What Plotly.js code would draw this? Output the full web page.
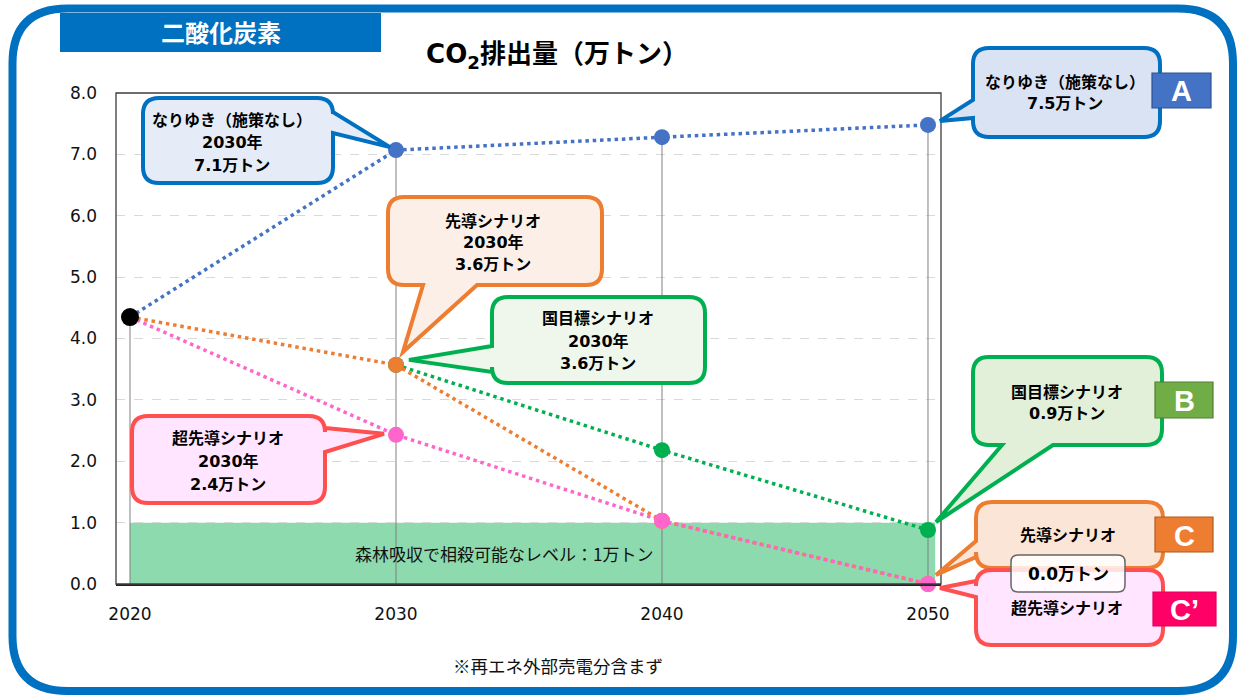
<!DOCTYPE html>
<html><head><meta charset="utf-8">
<script src="https://cdn.plot.ly/plotly-3.0.1.min.js"></script>
<style>html,body{margin:0;padding:0;background:#fff;}#chart{width:1239px;height:695px;}</style>
</head><body><div id="chart"></div>
<script>
// ---------------- data ----------------
const years = [2020, 2030, 2040, 2050];
const yearLabels = ['2020', '2030', '2040', '2050'];
const baseline = [4.35];                       // 2020 actual (black point)
const nariyuki = [4.35, 7.07, 7.28, 7.48];     // なりゆき（施策なし）
const kuniMokuhyo = [null, 3.57, 2.18, 0.88];  // 国目標シナリオ
const sendo = [4.35, 3.57, 1.03, 0.0];         // 先導シナリオ
const choSendo = [4.35, 2.43, 1.03, 0.0];      // 超先導シナリオ
const yTickVals = [0, 1, 2, 3, 4, 5, 6, 7, 8];
const yTickText = ['0.0', '1.0', '2.0', '3.0', '4.0', '5.0', '6.0', '7.0', '8.0'];
const forestLevel = 1.0;                       // 森林吸収で相殺可能なレベル

// ---------------- geometry ----------------
const W = 1239, H = 695;
const M = {l: 116, r: 298, t: 93, b: 111};
const PW = W - M.l - M.r, PH = H - M.t - M.b;
const XR = [2019.474, 2050.489], YR = [0, 8];
const px2x = px => (px - M.l) / PW;
const py2y = py => (M.t + PH - py) / PH;
const dX = v => M.l + (v - XR[0]) / (XR[1] - XR[0]) * PW;
const dY = v => M.t + PH - (v - YR[0]) / (YR[1] - YR[0]) * PH;
const P = (x, y) => px2x(x).toFixed(5) + ',' + py2y(y).toFixed(5);

function roundPath(x0, y0, x1, y1, r, tail) {
  const s = [];
  const t = tail || {};
  s.push('M' + P(x0 + r, y0));
  if (t.side === 'top') s.push('L' + P(t.a, y0), 'L' + P(t.tip[0], t.tip[1]), 'L' + P(t.b, y0));
  s.push('L' + P(x1 - r, y0), 'Q' + P(x1, y0) + ' ' + P(x1, y0 + r));
  if (t.side === 'right') s.push('L' + P(x1, t.a), 'L' + P(t.tip[0], t.tip[1]), 'L' + P(x1, t.b));
  s.push('L' + P(x1, y1 - r), 'Q' + P(x1, y1) + ' ' + P(x1 - r, y1));
  if (t.side === 'bottom') s.push('L' + P(t.b, y1), 'L' + P(t.tip[0], t.tip[1]), 'L' + P(t.a, y1));
  s.push('L' + P(x0 + r, y1), 'Q' + P(x0, y1) + ' ' + P(x0, y1 - r));
  if (t.side === 'left') s.push('L' + P(x0, t.b), 'L' + P(t.tip[0], t.tip[1]), 'L' + P(x0, t.a));
  s.push('L' + P(x0, y0 + r), 'Q' + P(x0, y0) + ' ' + P(x0 + r, y0), 'Z');
  return s.join(' ');
}
const tipAt = (yr, v, ox, oy) => [dX(yr) + ox, dY(v) + oy];

const C = {
  blue: '#4472C4', orange: '#ED7D31', green: '#00B050', pink: '#FF66CC',
  frame: '#0070C0'
};
const JP = '"Noto Sans CJK JP", "Noto Sans", sans-serif';
const MIX = '"DejaVu Sans", "Noto Sans CJK JP", sans-serif';
const NUM = '"DejaVu Sans", Verdana, sans-serif';

// ---------------- traces ----------------
const allSeries = [nariyuki, kuniMokuhyo, sendo, choSendo];
const dropX = [], dropY = [];
years.forEach((yr, i) => {
  const vals = allSeries.map(s => s[i]).filter(v => v != null);
  dropX.push(yr, yr, null); dropY.push(0, Math.max(...vals), null);
});
const dotDash = '3.5px,3.8px';
const lineTrace = (y, col) => ({x: years, y: y, mode: 'lines', connectgaps: false, cliponaxis: false,
  line: {color: col, width: 3.5, dash: dotDash}, hoverinfo: 'skip'});
const markTrace = (y, col) => ({x: years.slice(1), y: y.slice(1), mode: 'markers', cliponaxis: false,
  marker: {color: col, size: 16}, hoverinfo: 'skip'});
const traces = [
  {x: dropX, y: dropY, mode: 'lines', line: {color: '#808080', width: 1}, hoverinfo: 'skip'},
  lineTrace(nariyuki, C.blue), lineTrace(kuniMokuhyo, C.green),
  lineTrace(sendo, C.orange), lineTrace(choSendo, C.pink),
  markTrace(nariyuki, C.blue), markTrace(kuniMokuhyo, C.green),
  markTrace(sendo, C.orange), markTrace(choSendo, C.pink),
  {x: [years[0]], y: baseline, mode: 'markers', cliponaxis: false, marker: {color: '#000', size: 18}, hoverinfo: 'skip'}
];

// ---------------- shapes & annotations ----------------
const shapes = [];
const ann = [];
const txt = (x, y, text, size, color, bold, family) => ann.push({
  xref: 'paper', yref: 'paper', x: px2x(x), y: py2y(y), xanchor: 'center', yanchor: 'middle',
  showarrow: false, text: bold ? '<b>' + text + '</b>' : text,
  font: {family: family || JP, size: size, color: color || '#000'}
});

// outer rounded frame
shapes.push({type: 'path', xref: 'paper', yref: 'paper', layer: 'below',
  path: roundPath(12.5, 8.5, 1233, 691, 55), line: {color: C.frame, width: 8}, fillcolor: 'rgba(0,0,0,0)'});
// header box
shapes.push({type: 'rect', xref: 'paper', yref: 'paper', layer: 'below',
  x0: px2x(60), x1: px2x(381), y0: py2y(13), y1: py2y(52), fillcolor: C.frame, line: {width: 0}});
txt(221, 32, '二酸化炭素', 24, '#fff', true);
// forest absorption band
shapes.push({type: 'rect', xref: 'x', yref: 'y', layer: 'below',
  x0: years[0], x1: years[3] + 0.27, y0: 0, y1: forestLevel, fillcolor: '#8DDAAE', line: {width: 0}});
ann.push({xref: 'paper', yref: 'y', x: px2x(504), y: forestLevel / 2, xanchor: 'center', yanchor: 'middle',
  showarrow: false, text: '森林吸収で相殺可能なレベル：1万トン', font: {family: JP, size: 17, color: '#111'}});
// plot frame (top/left/right)
shapes.push({type: 'rect', xref: 'paper', yref: 'paper', layer: 'above',
  x0: 0, x1: 1, y0: 0, y1: 1, line: {color: '#3c3c3c', width: 1.3}, fillcolor: 'rgba(0,0,0,0)'});

// callouts
const bubbles = [
  {box: [143, 98, 333, 183], fill: '#E6ECF7', stroke: C.frame,
   tail: {side: 'right', a: 112, b: 133, tip: tipAt(2030, nariyuki[1], -6, -3)},
   lines: ['なりゆき（施策なし）', '2030年', '7.1万トン'], cx: 232, cy: 142.5, gap: 22.5},
  {box: [973, 48, 1160, 137], fill: '#DAE3F3', stroke: C.frame,
   tail: {side: 'left', a: 100, b: 118, tip: tipAt(2050, nariyuki[3], 12, -4)},
   lines: ['なりゆき（施策なし）', '7.5万トン'], cx: 1065, cy: 93, gap: 21},
  {box: [388, 197, 602, 285], fill: '#FBEFE7', stroke: C.orange,
   tail: {side: 'bottom', a: 423, b: 477, tip: tipAt(2030, sendo[1], 7, -13)},
   lines: ['先導シナリオ', '2030年', '3.6万トン'], cx: 493, cy: 243, gap: 21.5},
  {box: [492, 297, 705, 383], fill: '#EFF7EC', stroke: C.green,
   tail: {side: 'left', a: 346, b: 372, tip: tipAt(2030, kuniMokuhyo[1], 13, -5)},
   lines: ['国目標シナリオ', '2030年', '3.6万トン'], cx: 598, cy: 341, gap: 22.5},
  {box: [132, 416, 325, 503], fill: '#FFE5FF', stroke: '#FF5050',
   tail: {side: 'right', a: 428, b: 452, tip: tipAt(2030, choSendo[1], -12, -1)},
   lines: ['超先導シナリオ', '2030年', '2.4万トン'], cx: 228, cy: 461, gap: 23},
  {box: [973, 357, 1162, 445], fill: '#E2F0D9', stroke: C.green,
   tail: {side: 'bottom', a: 1002, b: 1053, tip: tipAt(2050, kuniMokuhyo[3], 8, -8)},
   lines: ['国目標シナリオ', '0.9万トン'], cx: 1067, cy: 402.5, gap: 21},
  {box: [976, 502, 1163, 568], fill: '#FBE5D6', stroke: C.orange,
   tail: {side: 'left', a: 541, b: 557, tip: tipAt(2050, sendo[3], 8, -9)},
   lines: ['先導シナリオ'], cx: 1068, cy: 535, gap: 0},
  {box: [976, 570, 1163, 645], fill: '#FFE5FF', stroke: '#FF5050',
   tail: {side: 'left', a: 581, b: 597, tip: tipAt(2050, choSendo[3], 12, 4)},
   lines: ['超先導シナリオ'], cx: 1067, cy: 608, gap: 0}
];
bubbles.forEach(b => {
  const [x0, y0, x1, y1] = b.box;
  shapes.push({type: 'path', xref: 'paper', yref: 'paper', layer: 'above',
    path: roundPath(x0, y0, x1, y1, 16, b.tail), fillcolor: b.fill, line: {color: b.stroke, width: 4}});
  const n = b.lines.length;
  b.lines.forEach((t, i) => txt(b.cx, b.cy + (i - (n - 1) / 2) * b.gap, t, 16, '#000', true, MIX));
});
// 0.0万トン box
shapes.push({type: 'path', xref: 'paper', yref: 'paper', layer: 'above',
  path: roundPath(1011, 555, 1125, 592, 7), fillcolor: 'rgba(255,255,255,0.82)', line: {color: '#666', width: 1.5}});
txt(1068, 574, '0.0万トン', 17, '#000', true, MIX);

// scenario letter tags
const tags = [
  {b: [1152, 73, 1211, 108], fill: '#4472C4', line: '#2F528F', t: 'A'},
  {b: [1155, 382, 1213, 418], fill: '#70AD47', line: '#507E32', t: 'B'},
  {b: [1155, 517, 1213, 552], fill: '#ED7D31', line: '#AE5A21', t: 'C'},
  {b: [1153, 592, 1216, 626], fill: '#FF0066', line: '#E0005A', t: 'C’'}
];
tags.forEach(g => {
  shapes.push({type: 'rect', xref: 'paper', yref: 'paper', layer: 'above',
    x0: px2x(g.b[0]), x1: px2x(g.b[2]), y0: py2y(g.b[1]), y1: py2y(g.b[3]),
    fillcolor: g.fill, line: {color: g.line, width: 1.2}});
  txt((g.b[0] + g.b[2]) / 2, (g.b[1] + g.b[3]) / 2 + 1, g.t, 29, '#fff', true, '"Liberation Sans", Arial, sans-serif');
});

// footnote
txt(558, 665, '※再エネ外部売電分含まず', 17.5, '#111', false);

const layout = {
  width: W, height: H, margin: M, showlegend: false,
  paper_bgcolor: '#fff', plot_bgcolor: 'rgba(0,0,0,0)',
  title: {text: '<b>CO<sub>2</sub>排出量（万トン）</b>', xref: 'container', yref: 'container',
    x: 557 / W, y: 1 - 54 / H, xanchor: 'center', yanchor: 'middle',
    font: {family: MIX, size: 26, color: '#000'}},
  xaxis: {range: XR, tickvals: years, ticktext: yearLabels, showgrid: false, zeroline: false,
    showline: true, linecolor: '#222', linewidth: 2, ticks: '', ticklabelstandoff: 14,
    tickfont: {family: NUM, size: 17, color: '#111'}, fixedrange: true},
  yaxis: {range: YR, tickvals: yTickVals, ticktext: yTickText, showgrid: true, gridcolor: '#d9d9d9',
    griddash: 'dash', gridwidth: 1, zeroline: false, showline: false, ticks: '', ticklabelstandoff: 18,
    tickfont: {family: NUM, size: 17, color: '#111'}, fixedrange: true},
  shapes: shapes, annotations: ann
};
Plotly.newPlot('chart', traces, layout, {displayModeBar: false, staticPlot: true});
</script></body></html>
